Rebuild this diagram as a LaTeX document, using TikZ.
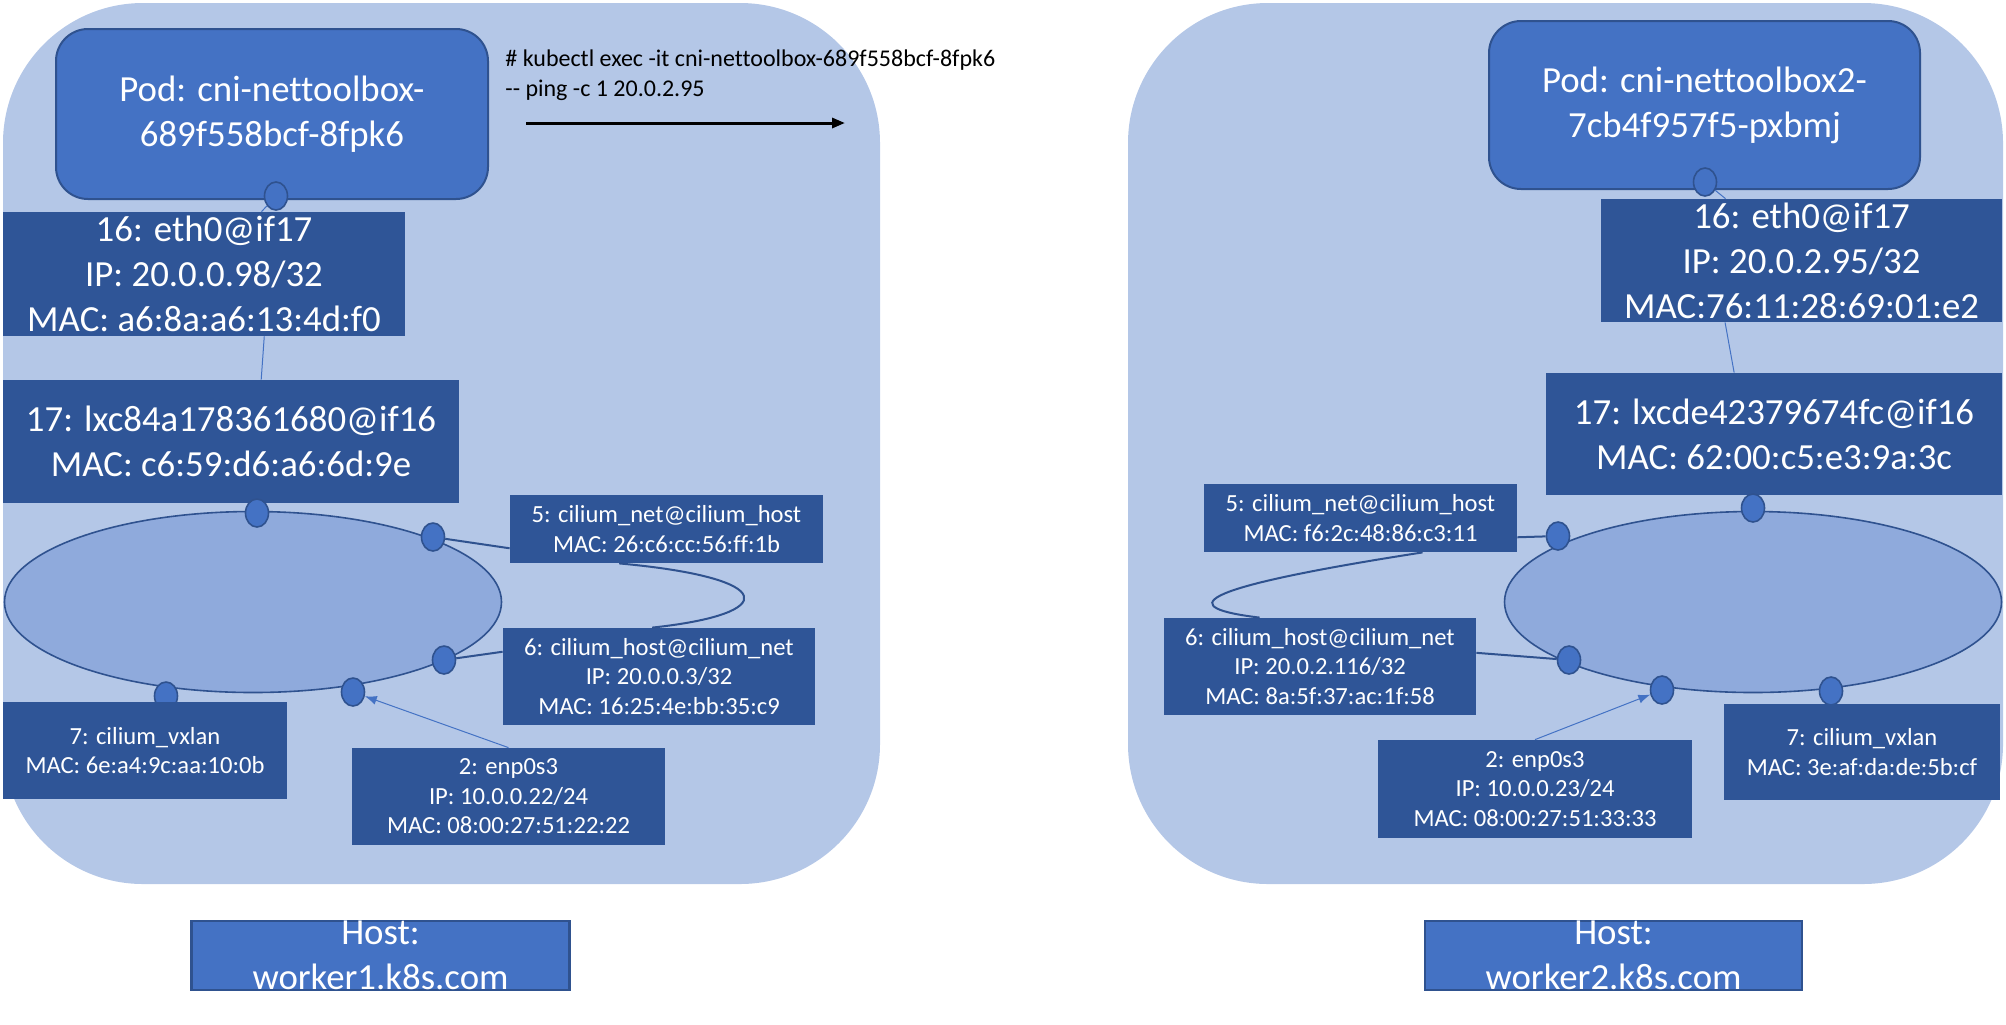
\documentclass[tikz,border=0pt]{standalone}
\usepackage{fontspec}
\setmainfont{Carlito}[Ligatures={TeX,NoCommon}]
\usetikzlibrary{shapes.geometric,arrows.meta}

\definecolor{hostbg}{HTML}{B4C7E7}
\definecolor{podblue}{HTML}{4472C4}
\definecolor{ifblue}{HTML}{2F5597}
\definecolor{edgeblue}{HTML}{2F528F}
\definecolor{brblue}{HTML}{8FAADC}

\newcommand{\boxfont}{\fontsize{18.4}{22.5}\selectfont}
\newcommand{\tagfont}{\fontsize{12.3}{14.75}\selectfont}
\newcommand{\cmdfont}{\fontsize{12}{15}\selectfont}

\tikzstyle{hostarea}=[fill=hostbg,rounded corners=70pt]
\tikzstyle{pod}=[rectangle,draw=edgeblue,line width=1pt,rounded corners=16pt,fill=podblue,text=white,align=center,font=\boxfont,inner sep=0pt]
\tikzstyle{iface}=[rectangle,fill=ifblue,text=white,align=center,font=\boxfont,inner sep=0pt]
\tikzstyle{smallif}=[iface,font=\tagfont]
\tikzstyle{portdot}=[ellipse,draw=edgeblue,line width=0.8pt,fill=podblue,minimum width=11.5pt,minimum height=14pt,inner sep=0pt]
\tikzstyle{hostbr}=[ellipse,draw=edgeblue,line width=0.8pt,fill=brblue,minimum width=248.5pt,minimum height=90.5pt,inner sep=0pt]
\tikzstyle{hostbox}=[rectangle,draw=edgeblue,line width=1.2pt,fill=podblue,minimum width=189pt,minimum height=34.5pt,inner sep=0pt]
\tikzstyle{hostname}=[text=white,align=center,font=\boxfont,inner sep=0pt]
\tikzstyle{link}=[draw=edgeblue,line width=1pt]
\tikzstyle{thinlink}=[draw=podblue,line width=0.5pt]
\tikzstyle{cmd}=[align=left,font=\cmdfont,inner sep=0pt,anchor=west]
\tikzstyle{ping}=[draw=black,line width=1.5pt,-{Triangle[length=6.5pt,width=5pt]}]

\begin{document}
\begin{tikzpicture}[x=0.5pt,y=-0.5pt]
  \useasboundingbox (0,0) rectangle (2006,1024);
  \fill[hostarea] (3,3) rectangle (880,884);
  \fill[hostarea] (1128,3) rectangle (2003,884);

  % worker1
  \node[pod,minimum width=216pt,minimum height=85pt] (pod1) at (272,114) {Pod: cni-nettoolbox-\\689f558bcf-8fpk6};
  \node[portdot] (poddot1) at (276,196) {};
  \node[iface,minimum width=201pt,minimum height=62pt] (eth1) at (204,274) {16: eth0@if17\\IP: 20.0.0.98/32\\MAC: a6:8a:a6:13:4d:f0};
  \node[iface,minimum width=228pt,minimum height=61.5pt] (lxc1) at (231,441.5) {17: lxc84a178361680@if16\\MAC: c6:59:d6:a6:6d:9e};
  \node[hostbr] (br1) at (253,602) {};
  \node[portdot] (brtop1) at (257,513) {};
  \node[portdot] (brnet1) at (433,537) {};
  \node[portdot] (brhost1) at (444,660) {};
  \node[portdot] (brenp1) at (353,692) {};
  \node[portdot] (brvx1) at (166,696) {};
  \node[smallif,minimum width=156.5pt,minimum height=34pt] (net1) at (666.5,529) {5: cilium\_net@cilium\_host\\MAC: 26:c6:cc:56:ff:1b};
  \node[smallif,minimum width=156pt,minimum height=48.5pt] (chost1) at (659,676.5) {6: cilium\_host@cilium\_net\\IP: 20.0.0.3/32\\MAC: 16:25:4e:bb:35:c9};
  \node[smallif,minimum width=142pt,minimum height=48.5pt] (vx1) at (145,750.5) {7: cilium\_vxlan\\MAC: 6e:a4:9c:aa:10:0b};
  \node[smallif,minimum width=156.5pt,minimum height=48.5pt] (enp1) at (508.5,796.5) {2: enp0s3\\IP: 10.0.0.22/24\\MAC: 08:00:27:51:22:22};
  \node[hostbox] (hostbox1) at (380.5,955.5) {};
  \node[hostname] (hostname1) at (hostbox1) {Host:\\worker1.k8s.com};

  \draw[thinlink] (poddot1) -- (eth1);
  \draw[thinlink] (eth1.314) -- (lxc1.64);
  \draw[link] (brnet1) -- (net1.187);
  \draw[link] (brhost1) -- (chost1.171);
  \draw[link] (net1.216) .. controls (780,578) and (780,614) .. (chost1.98);
  \draw[thinlink,-{Latex[length=6pt,width=4.5pt]}] (enp1.north) -- (brenp1);

  % ping command
  \node[cmd] (cmd) at (505,75) {\# kubectl exec -it cni-nettoolbox-689f558bcf-8fpk6\\-{}- ping -c 1 20.0.2.95};
  \coordinate (pingfrom) at (526,123);
  \coordinate (pingto) at (845,123);
  \draw[ping] (pingfrom) -- (pingto);

  % worker2
  \node[pod,minimum width=215.5pt,minimum height=84pt] (pod2) at (1704.5,105) {Pod: cni-nettoolbox2-\\7cb4f957f5-pxbmj};
  \node[portdot] (poddot2) at (1705,182) {};
  \node[iface,minimum width=200.5pt,minimum height=61.5pt] (eth2) at (1801.5,260.5) {16: eth0@if17\\IP: 20.0.2.95/32\\MAC:76:11:28:69:01:e2};
  \node[iface,minimum width=228pt,minimum height=61pt] (lxc2) at (1774,434) {17: lxcde42379674fc@if16\\MAC: 62:00:c5:e3:9a:3c};
  \node[hostbr] (br2) at (1753,602) {};
  \node[portdot] (brtop2) at (1753,508) {};
  \node[portdot] (brnet2) at (1558,536) {};
  \node[portdot] (brhost2) at (1569,660) {};
  \node[portdot] (brenp2) at (1662,690) {};
  \node[portdot] (brvx2) at (1831,691) {};
  \node[smallif,minimum width=156.5pt,minimum height=34pt] (net2) at (1360.5,518) {5: cilium\_net@cilium\_host\\MAC: f6:2c:48:86:c3:11};
  \node[smallif,minimum width=156pt,minimum height=48.5pt] (chost2) at (1320,666.5) {6: cilium\_host@cilium\_net\\IP: 20.0.2.116/32\\MAC: 8a:5f:37:ac:1f:58};
  \node[smallif,minimum width=138pt,minimum height=48pt] (vx2) at (1862,752) {7: cilium\_vxlan\\MAC: 3e:af:da:de:5b:cf};
  \node[smallif,minimum width=157pt,minimum height=49pt] (enp2) at (1535,789) {2: enp0s3\\IP: 10.0.0.23/24\\MAC: 08:00:27:51:33:33};
  \node[hostbox,minimum width=188.5pt] (hostbox2) at (1613.5,955.5) {};
  \node[hostname] (hostname2) at (hostbox2) {Host:\\worker2.k8s.com};

  \draw[thinlink] (poddot2) -- (eth2);
  \draw[thinlink] (eth2.219) -- (lxc2.123);
  \draw[link] (brnet2) -- (net2.353);
  \draw[link] (brhost2) -- (chost2.5);
  \draw[link] (net2.331) .. controls (1180,590) and (1180,608) .. (chost2.141);
  \draw[thinlink,-{Latex[length=6pt,width=4.5pt]}] (enp2.north) -- (brenp2);
\end{tikzpicture}
\end{document}
